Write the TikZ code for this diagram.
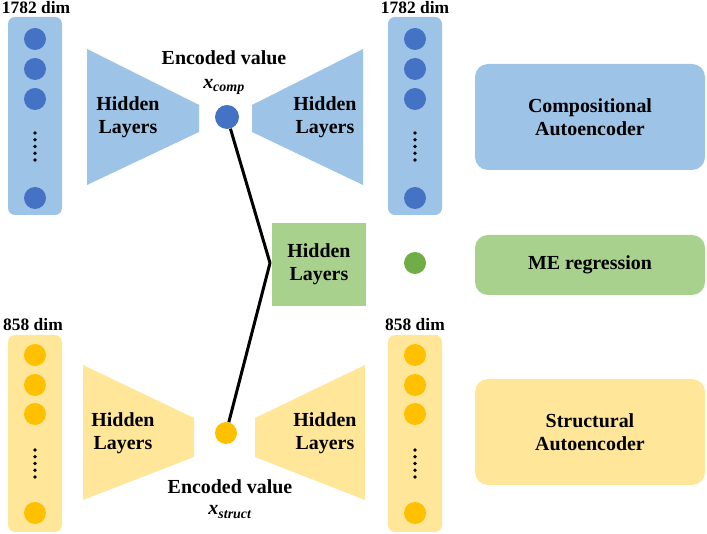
\documentclass[tikz,border=0pt]{standalone}
\usepackage{fontspec}
\setmainfont{Liberation Serif}
\definecolor{compfill}{HTML}{9DC3E6}
\definecolor{compdot}{HTML}{4472C4}
\definecolor{structfill}{HTML}{FFE699}
\definecolor{structdot}{HTML}{FFC000}
\definecolor{regfill}{HTML}{A9D18E}
\definecolor{regdot}{HTML}{70AD47}
\begin{document}
\begin{tikzpicture}[>=latex,line join=bevel,
  txt/.style={font=\fontsize{20}{23}\selectfont\bfseries,align=center,inner sep=0pt},
  dimlbl/.style={font=\fontsize{17.5}{20}\selectfont\bfseries,inner sep=0pt},
  column/.style={rounded corners=7bp,minimum width=54bp,minimum height=198bp,inner sep=0pt},
  unit/.style={circle,inner sep=0pt,minimum size=22bp},
  infobox/.style={rounded corners=13bp,minimum width=230bp,txt},
]
\useasboundingbox (0bp,0bp) rectangle (707bp,534bp);
%% compositional autoencoder
\node (col_comp_in) at (35bp,418bp) [column,fill=compfill] {};
\node (col_comp_out) at (415bp,418bp) [column,fill=compfill] {};
\node (dim_comp_in) at (36bp,526bp) [dimlbl] {1782 dim};
\node (dim_comp_out) at (415bp,526bp) [dimlbl] {1782 dim};
\foreach \y in {495,465,435,336} {
  \node (in_comp_\y) at (35bp,\y bp) [unit,fill=compdot] {};
  \node (out_comp_\y) at (415bp,\y bp) [unit,fill=compdot] {};
}
\foreach \k in {0,...,4} {
  \fill (35bp,374bp+\k*6.75bp) circle (1.8bp);
  \fill (415bp,374bp+\k*6.75bp) circle (1.8bp);
}
\fill [compfill] (87bp,485bp) -- (87bp,349bp) -- (199bp,402bp) -- (199bp,429bp) -- cycle;
\fill [compfill] (252bp,429bp) -- (252bp,402bp) -- (363bp,349bp) -- (363bp,485bp) -- cycle;
\node (enc_comp_l) at (128bp,417bp) [txt] {Hidden\\Layers};
\node (dec_comp_l) at (325bp,417bp) [txt] {Hidden\\Layers};
\node (enc_comp) at (227bp,417bp) [unit,minimum size=24bp,fill=compdot] {};
\node (val_comp) at (224bp,476bp) [txt] {Encoded value};
\node (x_comp) at (224bp,447bp) [txt] {{\itshape x}\textsubscript{\itshape comp}};
\node (box_comp) at (590bp,417bp) [infobox,minimum height=106bp,fill=compfill] {Compositional\\Autoencoder};
%
%% regression
\node (hid_reg) at (319bp,269.5bp) [txt,fill=regfill,minimum width=94bp,minimum height=83bp] {Hidden\\Layers};
\node (out_reg) at (415bp,271bp) [unit,fill=regdot] {};
\node (box_reg) at (590bp,269bp) [infobox,minimum height=60bp,fill=regfill] {ME regression};
%
%% structural autoencoder
\node (col_struct_in) at (35bp,100.5bp) [column,minimum height=197bp,fill=structfill] {};
\node (col_struct_out) at (415bp,100.5bp) [column,minimum height=197bp,fill=structfill] {};
\node (dim_struct_in) at (33bp,209bp) [dimlbl] {858 dim};
\node (dim_struct_out) at (415bp,209bp) [dimlbl] {858 dim};
\foreach \y in {179,149,120,21} {
  \node (in_struct_\y) at (35bp,\y bp) [unit,fill=structdot] {};
  \node (out_struct_\y) at (415bp,\y bp) [unit,fill=structdot] {};
}
\foreach \k in {0,...,4} {
  \fill (35bp,57bp+\k*6.75bp) circle (1.8bp);
  \fill (415bp,57bp+\k*6.75bp) circle (1.8bp);
}
\fill [structfill] (83bp,169bp) -- (83bp,34bp) -- (194bp,77bp) -- (194bp,116bp) -- cycle;
\fill [structfill] (255bp,116bp) -- (255bp,77bp) -- (365bp,34bp) -- (365bp,169bp) -- cycle;
\node (enc_struct_l) at (123bp,101bp) [txt] {Hidden\\Layers};
\node (dec_struct_l) at (325bp,101bp) [txt] {Hidden\\Layers};
\node (enc_struct) at (226bp,101bp) [unit,fill=structdot] {};
\node (val_struct) at (230bp,47bp) [txt] {Encoded value};
\node (x_struct) at (230bp,22bp) [txt] {{\itshape x}\textsubscript{\itshape struct}};
\node (box_struct) at (590bp,102bp) [infobox,minimum height=106bp,fill=structfill] {Structural\\Autoencoder};
%
\coordinate (join) at (270bp,271bp);
\draw [black,line width=3bp] (enc_comp) -- (join) -- (enc_struct);
%
\end{tikzpicture}
\end{document}
